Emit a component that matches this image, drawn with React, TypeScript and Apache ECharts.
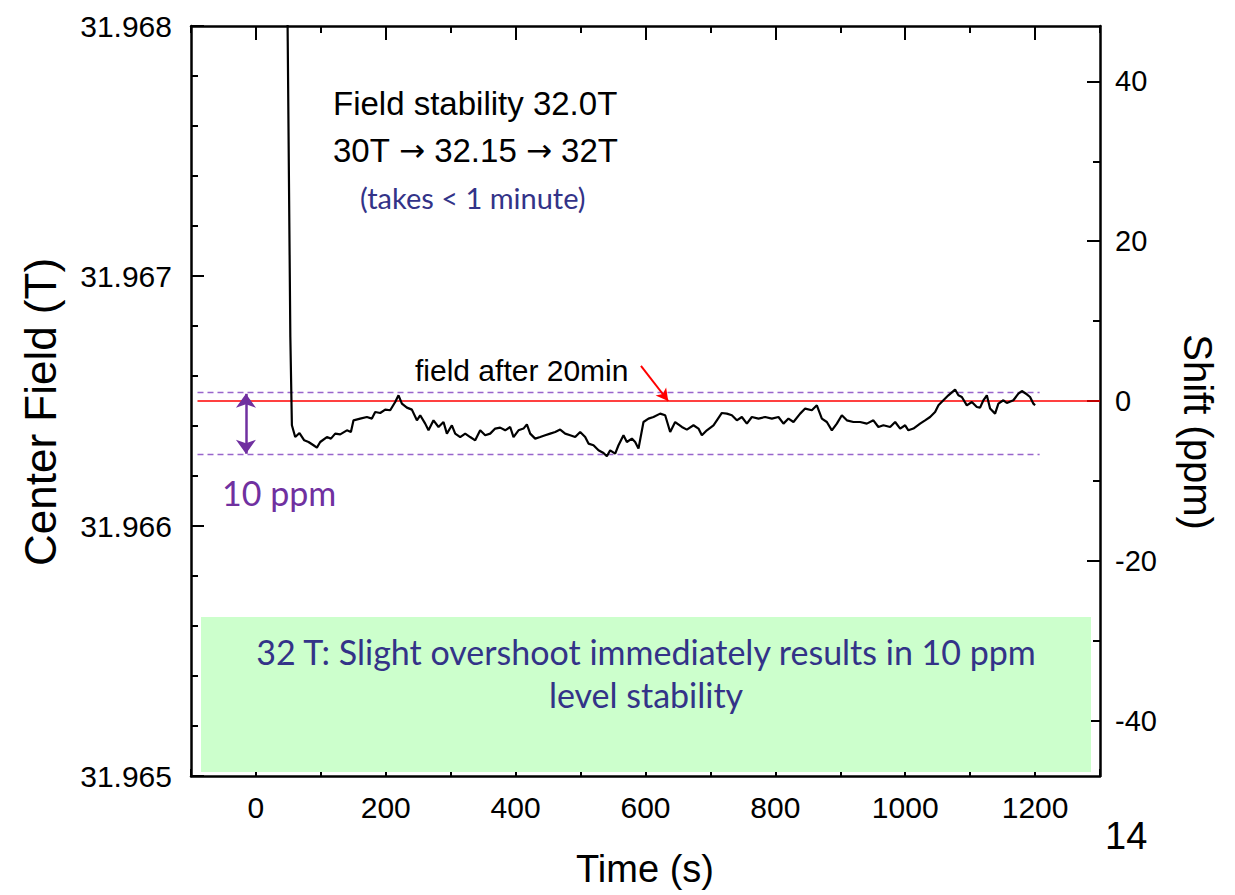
import React, { useEffect, useRef } from "react";
import * as echarts from "echarts";

// ---- axis ranges / ticks ----
const REF_FIELD = 31.9665; // field after 20 min (T) -> 0 ppm
const FIELD_MIN = 31.965;
const FIELD_MAX = 31.968;
const FIELD_INTERVAL = 0.001;
const TIME_MIN = -100;
const TIME_MAX = 1300;
const timeTickLabels = [0, 200, 400, 600, 800, 1000, 1200];
const shiftTickLabels = [-40, -20, 0, 20, 40];
const shiftMinorTicks = [-30, -10, 10, 30];

// ---- measured trace: time (s) and shift (ppm) ----
const timeS = [
  45, 49, 53, 55.4, 60.5, 67.1, 74.4, 81.0, 88.7, 93.9, 99.0, 109.3, 115.5, 122.1, 129.8, 140.1, 146.3,
  150.3, 160.6, 170.9, 178.6, 183.7, 191.4, 199.1, 206.8, 214.5, 219.6, 224.8, 232.5, 240.2, 247.9,
  253.0, 260.7, 265.8, 273.5, 281.2, 288.9, 294.1, 301.8, 306.9, 314.6, 322.3, 330.0, 337.7, 345.4,
  353.1, 360.8, 368.5, 376.2, 383.9, 391.6, 396.7, 404.4, 412.1, 417.3, 422.4, 430.1, 437.8, 445.5,
  453.2, 460.9, 468.6, 476.3, 484.0, 491.7, 499.4, 507.1, 512.2, 519.9, 527.6, 535.3, 540.5, 545.6,
  553.3, 558.4, 566.1, 571.3, 579.0, 584.1, 589.2, 596.9, 604.6, 612.3, 622.6, 630.3, 638.0, 645.7,
  656.0, 663.7, 673.9, 681.6, 686.8, 694.5, 704.7, 709.9, 717.6, 725.3, 733.0, 740.7, 748.4, 756.1,
  763.8, 774.0, 784.3, 794.6, 804.8, 812.5, 820.2, 827.9, 838.2, 845.9, 856.2, 863.9, 871.6, 879.3,
  887.0, 894.7, 902.4, 910.1, 920.2, 930.6, 940.9, 951.0, 958.7, 966.4, 976.8, 984.5, 992.2, 999.9,
  1004.9, 1012.6, 1022.9, 1030.6, 1038.3, 1046.0, 1051.2, 1058.8, 1066.5, 1076.8, 1081.9, 1087.2,
  1094.9, 1102.6, 1110.3, 1115.3, 1120.4, 1125.7, 1130.7, 1138.4, 1143.5, 1151.2, 1156.5, 1166.6,
  1174.3, 1179.6, 1187.3, 1192.3, 1197.4, 1200.0,
];
const shiftPpm = [
  80, 45, 8, -3.04, -4.51, -4.01, -4.92, -5.13, -5.54, -5.83, -5.13, -4.51, -4.71, -4.08, -4.17, -3.67, -3.88,
  -2.42, -2.2, -2.0, -2.2, -1.38, -1.5, -1.08, -1.16, -0.13, 0.71, -0.33, -0.83, -1.08, -2.42,
  -1.79, -2.83, -3.67, -2.42, -3.25, -2.63, -4.08, -3.04, -4.08, -4.51, -4.08, -4.51, -4.92, -3.67,
  -4.29, -4.08, -3.45, -3.33, -3.67, -3.25, -4.51, -3.67, -3.45, -2.92, -4.08, -4.71, -4.51, -4.29,
  -4.08, -3.88, -3.58, -4.08, -4.29, -4.51, -3.88, -4.51, -5.33, -5.54, -6.17, -6.51, -6.92, -6.17,
  -6.58, -5.54, -4.29, -5.13, -4.71, -5.13, -5.96, -2.63, -2.2, -2.0, -1.58, -1.79, -3.88, -2.63,
  -3.25, -3.58, -3.04, -3.45, -4.29, -3.67, -3.04, -2.42, -1.5, -1.58, -1.79, -2.42, -2.0, -2.83,
  -2.0, -2.2, -2.0, -2.2, -2.0, -2.83, -2.2, -2.63, -1.58, -0.95, -1.16, -0.54, -2.2, -2.63,
  -3.67, -2.83, -1.79, -2.42, -2.63, -2.63, -2.83, -2.42, -3.25, -3.04, -3.25, -2.63, -3.45, -3.04,
  -3.67, -3.45, -2.83, -2.42, -2.0, -1.38, -0.54, 0.09, 0.71, 1.43, 0.71, 0.5,
  -0.54, -0.13, -0.75, -0.83, 0.09, 0.71, -0.95, -1.58, -0.33, 0.09, -0.25, 0.09,
  0.93, 1.25, 0.84, 0.5, -0.33, -0.54,
];

// ---- reference lines / annotations (time s, shift ppm) ----
const refLineTimes = [-90, 1300];
const refLineShift = 0;
const bandTimes = [-90, 1207];
const bandUpperPpm = 1.05;
const bandLowerPpm = -6.7;
const spanArrowTime = -15.4;
const spanArrowTopPpm = 0.9;
const spanArrowBottomPpm = -6.6;
const noteArrowStart = [593, 4.4];
const noteArrowEnd = [635, 0.0];

const SHIFT_MIN = ((FIELD_MIN - REF_FIELD) / REF_FIELD) * 1e6;
const SHIFT_MAX = ((FIELD_MAX - REF_FIELD) / REF_FIELD) * 1e6;

export default function App() {
  const ref = useRef<HTMLDivElement>(null);

  useEffect(() => {
    if (!ref.current) return;
    const chart = echarts.init(ref.current, null, { renderer: "svg" });
    const arial = "'Liberation Sans', Arial, sans-serif";
    const calibri = "Lato, 'Open Sans', sans-serif";
    const axisLine = { show: true, onZero: false, lineStyle: { color: "#000", width: 2.5 } };
    const tickStyle = { color: "#000", width: 2 };
    const trace = timeS.map((t, i) => [t, shiftPpm[i]]);

    const xBase = { type: "value", min: TIME_MIN, max: TIME_MAX, splitLine: { show: false } };
    const xAxes: any[] = [
      {
        ...xBase,
        position: "bottom",
        interval: 100,
        axisLine,
        axisTick: { show: true, inside: true, length: 7, lineStyle: tickStyle },
        axisLabel: {
          customValues: timeTickLabels,
          formatter: (v: number) => String(v),
          fontSize: 30,
          color: "#000",
          fontFamily: arial,
          margin: 16,
        },
      },
      {
        ...xBase,
        position: "bottom",
        axisLine: { show: false, onZero: false },
        axisTick: { show: true, inside: true, length: 14, customValues: timeTickLabels, lineStyle: tickStyle },
        axisLabel: { show: false },
      },
      {
        ...xBase,
        position: "top",
        interval: 100,
        axisLine,
        axisTick: { show: true, inside: true, length: 7, lineStyle: tickStyle },
        axisLabel: { show: false },
      },
      {
        ...xBase,
        position: "top",
        axisLine: { show: false, onZero: false },
        axisTick: { show: true, inside: true, length: 14, customValues: timeTickLabels, lineStyle: tickStyle },
        axisLabel: { show: false },
      },
    ];

    const yAxes: any[] = [
      {
        type: "value",
        position: "left",
        min: FIELD_MIN,
        max: FIELD_MAX,
        interval: FIELD_INTERVAL,
        axisLine,
        axisTick: { show: true, inside: true, length: 13, lineStyle: tickStyle },
        minorTick: { show: true, splitNumber: 5, length: 7, lineStyle: tickStyle },
        axisLabel: {
          formatter: (v: number) => v.toFixed(3),
          fontSize: 30,
          color: "#000",
          fontFamily: arial,
          margin: 19,
        },
        splitLine: { show: false },
        minorSplitLine: { show: false },
      },
      {
        type: "value",
        position: "right",
        min: SHIFT_MIN,
        max: SHIFT_MAX,
        axisLine,
        axisTick: { show: true, inside: true, length: 13, customValues: shiftTickLabels, lineStyle: tickStyle },
        axisLabel: { customValues: shiftTickLabels, fontSize: 29, color: "#000", fontFamily: arial, margin: 15 },
        splitLine: { show: false },
      },
      {
        type: "value",
        position: "right",
        min: SHIFT_MIN,
        max: SHIFT_MAX,
        axisLine: { show: false, onZero: false },
        axisTick: { show: true, inside: true, length: 7, customValues: shiftMinorTicks, lineStyle: tickStyle },
        axisLabel: { show: false },
        splitLine: { show: false },
      },
    ];

    const option: any = {
      animation: false,
      backgroundColor: "#fff",
      grid: { left: 191, right: 135, top: 26, bottom: 119, containLabel: false },
      xAxis: xAxes,
      yAxis: yAxes,
      series: [
        {
          name: "ref",
          type: "line",
          xAxisIndex: 0,
          yAxisIndex: 1,
          data: refLineTimes.map((t) => [t, refLineShift]),
          symbol: "none",
          lineStyle: { color: "#ff0000", width: 1.6 },
          silent: true,
          z: 3,
          markLine: {
            silent: true,
            symbol: ["none", "arrow"],
            symbolSize: [10, 12],
            lineStyle: { color: "#ff0000", width: 2, type: "solid" },
            label: { show: false },
            data: [[{ coord: noteArrowStart }, { coord: noteArrowEnd }]],
          },
        },
        {
          name: "upper",
          type: "line",
          xAxisIndex: 0,
          yAxisIndex: 1,
          data: bandTimes.map((t) => [t, bandUpperPpm]),
          symbol: "none",
          lineStyle: { color: "#9966cc", width: 1.5, type: [6, 4] },
          silent: true,
          z: 2,
        },
        {
          name: "lower",
          type: "line",
          xAxisIndex: 0,
          yAxisIndex: 1,
          data: bandTimes.map((t) => [t, bandLowerPpm]),
          symbol: "none",
          lineStyle: { color: "#9966cc", width: 1.5, type: [6, 4] },
          silent: true,
          z: 2,
          markLine: {
            silent: true,
            symbol: ["arrow", "arrow"],
            symbolSize: [15, 14],
            lineStyle: { color: "#7030a0", width: 2.5, type: "solid" },
            label: { show: false },
            data: [[{ coord: [spanArrowTime, spanArrowTopPpm] }, { coord: [spanArrowTime, spanArrowBottomPpm] }]],
          },
        },
        {
          name: "field",
          type: "line",
          xAxisIndex: 0,
          yAxisIndex: 1,
          data: trace,
          symbol: "none",
          showSymbol: false,
          clip: true,
          lineStyle: { color: "#000", width: 2.2 },
          z: 4,
        },
      ],
      graphic: [
        {
          type: "rect",
          z: 1,
          shape: { x: 201, y: 617, width: 890, height: 155 },
          style: { fill: "#ccffcc" },
        },
        {
          type: "text",
          z: 10,
          x: 646,
          y: 651,
          style: {
            text: "32 T: Slight overshoot immediately results in 10 ppm",
            font: `34px ${calibri}`,
            fill: "#333388",
            align: "center",
            verticalAlign: "middle",
          },
        },
        {
          type: "text",
          z: 10,
          x: 646,
          y: 694,
          style: { text: "level stability", font: `34px ${calibri}`, fill: "#333388", align: "center", verticalAlign: "middle" },
        },
        {
          type: "text",
          z: 10,
          x: 333,
          y: 103,
          style: { text: "Field stability 32.0T", font: `33px ${arial}`, fill: "#000", align: "left", verticalAlign: "middle" },
        },
        {
          type: "text",
          z: 10,
          x: 333,
          y: 150,
          style: {
            text: "30T {a|\u2192} 32.15 {a|\u2192} 32T",
            font: `33px ${arial}`,
            fill: "#000",
            align: "left",
            verticalAlign: "middle",
            rich: { a: { fontFamily: "'DejaVu Sans'", fontSize: 31, fill: "#000" } },
          },
        },
        {
          type: "text",
          z: 10,
          x: 360,
          y: 197,
          style: { text: "(takes < 1 minute)", font: `29px ${calibri}`, fill: "#333388", align: "left", verticalAlign: "middle" },
        },
        {
          type: "text",
          z: 10,
          x: 415,
          y: 370,
          style: { text: "field after 20min", font: `30px ${arial}`, fill: "#000", align: "left", verticalAlign: "middle" },
        },
        {
          type: "text",
          z: 10,
          x: 222,
          y: 492,
          style: { text: "10 ppm", font: `34px ${calibri}`, fill: "#7030a0", align: "left", verticalAlign: "middle" },
        },
        {
          type: "text",
          z: 10,
          x: 1105,
          y: 836,
          style: { text: "14", font: `38px ${arial}`, fill: "#000", align: "left", verticalAlign: "middle" },
        },
        {
          type: "text",
          z: 10,
          x: 645,
          y: 869,
          style: { text: "Time (s)", font: `38px ${arial}`, fill: "#000", align: "center", verticalAlign: "middle" },
        },
        {
          type: "text",
          z: 10,
          x: 40,
          y: 412,
          rotation: Math.PI / 2,
          style: { text: "Center Field (T)", font: `44px ${arial}`, fill: "#000", align: "center", verticalAlign: "middle" },
        },
        {
          type: "text",
          z: 10,
          x: 1198,
          y: 432,
          rotation: -Math.PI / 2,
          style: { text: "Shift (ppm)", font: `40px ${arial}`, fill: "#000", align: "center", verticalAlign: "middle" },
        },
      ],
    };

    chart.setOption(option);
    return () => chart.dispose();
  }, []);

  return (
    <div
      ref={ref}
      style={{ position: "fixed", left: 0, top: 0, width: 1235, height: 895, background: "#fff" }}
    />
  );
}
